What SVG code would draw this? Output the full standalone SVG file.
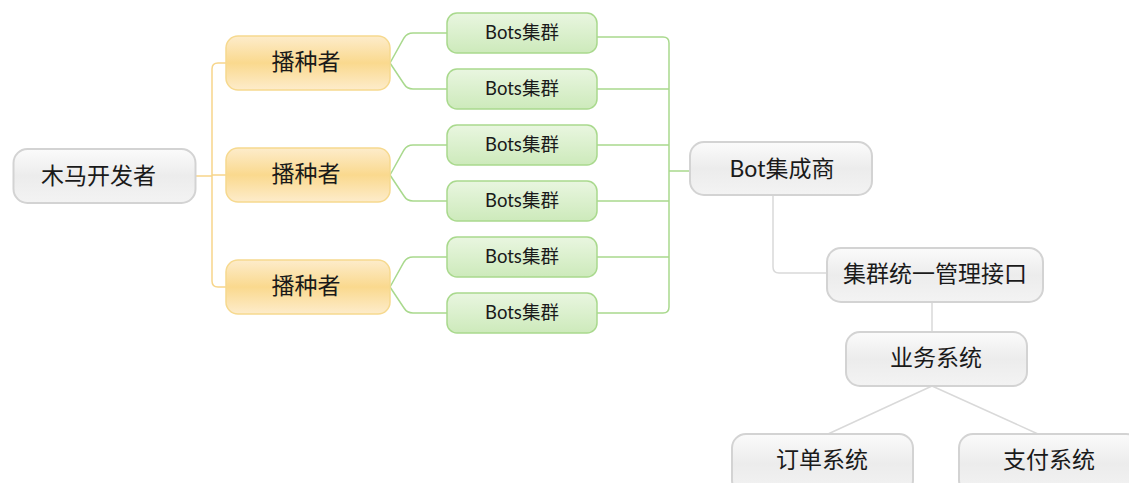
<svg xmlns="http://www.w3.org/2000/svg" width="1129" height="483" viewBox="0 0 1129 483">
<defs>
<linearGradient id="gGray" x1="0" y1="0" x2="0" y2="1">
<stop offset="0" stop-color="#fbfbfb"/><stop offset="0.5" stop-color="#ececec"/><stop offset="1" stop-color="#f3f3f3"/>
</linearGradient>
<linearGradient id="gOrange" x1="0" y1="0" x2="0" y2="1">
<stop offset="0" stop-color="#fdeccb"/><stop offset="0.5" stop-color="#fad98e"/><stop offset="1" stop-color="#fdeccb"/>
</linearGradient>
<linearGradient id="gGreen" x1="0" y1="0" x2="0" y2="1">
<stop offset="0" stop-color="#e9f6e0"/><stop offset="1" stop-color="#cdeabb"/>
</linearGradient>
</defs>
<style>
.gray{fill:url(#gGray);stroke:#d3d3d3;stroke-width:2}
.orange{fill:url(#gOrange);stroke:#f6d98f;stroke-width:1.5}
.green{fill:url(#gGreen);stroke:#a9d98d;stroke-width:1.5}
text{font-family:Lato,"Noto Sans CJK SC",sans-serif;fill:#1a1a1a;text-anchor:middle;dominant-baseline:central}
.big{font-size:23px}
.small{font-size:18.5px}
.co{fill:none;stroke:#f7d58a;stroke-width:1.5}
.cg{fill:none;stroke:#a9d98d;stroke-width:1.5}
.cy{fill:none;stroke:#d9d9d9;stroke-width:1.5}
</style>
<g id="connectors">
<path class="co" d="M195,176 H212 M226,63 H218 Q212,63 212,69 V281 Q212,287 218,287 H226 M212,175 H226"/>
<path class="cg" d="M390,63 L404,38 Q407,33 413,33 H447 M390,63 L404,84 Q407,89 413,89 H447"/>
<path class="cg" d="M390,175 L404,150 Q407,145 413,145 H447 M390,175 L404,196 Q407,201 413,201 H447"/>
<path class="cg" d="M390,287 L404,262 Q407,257 413,257 H447 M390,287 L404,308 Q407,313 413,313 H447"/>
<path class="cg" d="M597,37 H663 Q669,37 669,43 V307 Q669,313 663,313 H597 M597,89 H669 M597,145 H669 M597,201 H669 M597,257 H669 M669,171 H690"/>
<path class="cy" d="M773,195 V267 Q773,273 779,273 H827"/>
<path class="cy" d="M932,302 V332"/>
<path class="cy" d="M932,386 L828,434 M932,386 L1038,434"/>
</g>
<g id="n-trojan"><rect class="gray" x="13.5" y="149" width="182" height="54" rx="14"/><text class="big" x="98.5" y="174.5">木马开发者</text></g>
<g id="n-seed1"><rect class="orange" x="226" y="36" width="164" height="54" rx="12"/><text class="big" x="306" y="61">播种者</text></g>
<g id="n-seed2"><rect class="orange" x="226" y="148" width="164" height="54" rx="12"/><text class="big" x="306" y="173">播种者</text></g>
<g id="n-seed3"><rect class="orange" x="226" y="260" width="164" height="54" rx="12"/><text class="big" x="306" y="285">播种者</text></g>
<g id="n-bots1"><rect class="green" x="447" y="13" width="150" height="40" rx="10"/><text class="small" x="522" y="32">Bots集群</text></g>
<g id="n-bots2"><rect class="green" x="447" y="69" width="150" height="40" rx="10"/><text class="small" x="522" y="88">Bots集群</text></g>
<g id="n-bots3"><rect class="green" x="447" y="125" width="150" height="40" rx="10"/><text class="small" x="522" y="144">Bots集群</text></g>
<g id="n-bots4"><rect class="green" x="447" y="181" width="150" height="40" rx="10"/><text class="small" x="522" y="200">Bots集群</text></g>
<g id="n-bots5"><rect class="green" x="447" y="237" width="150" height="40" rx="10"/><text class="small" x="522" y="256">Bots集群</text></g>
<g id="n-bots6"><rect class="green" x="447" y="293" width="150" height="40" rx="10"/><text class="small" x="522" y="312">Bots集群</text></g>
<g id="n-integrator"><rect class="gray" x="690" y="142" width="182" height="53" rx="14"/><text class="big" x="782" y="167.5">Bot集成商</text></g>
<g id="n-api"><rect class="gray" x="827" y="248" width="216" height="54" rx="14"/><text class="big" x="935" y="273">集群统一管理接口</text></g>
<g id="n-biz"><rect class="gray" x="846" y="332" width="181" height="54" rx="14"/><text class="big" x="936" y="357">业务系统</text></g>
<g id="n-order"><rect class="gray" x="732" y="434" width="181" height="60" rx="14"/><text class="big" x="822" y="459">订单系统</text></g>
<g id="n-pay"><rect class="gray" x="959" y="434" width="181" height="60" rx="14"/><text class="big" x="1049" y="459">支付系统</text></g>
</svg>
